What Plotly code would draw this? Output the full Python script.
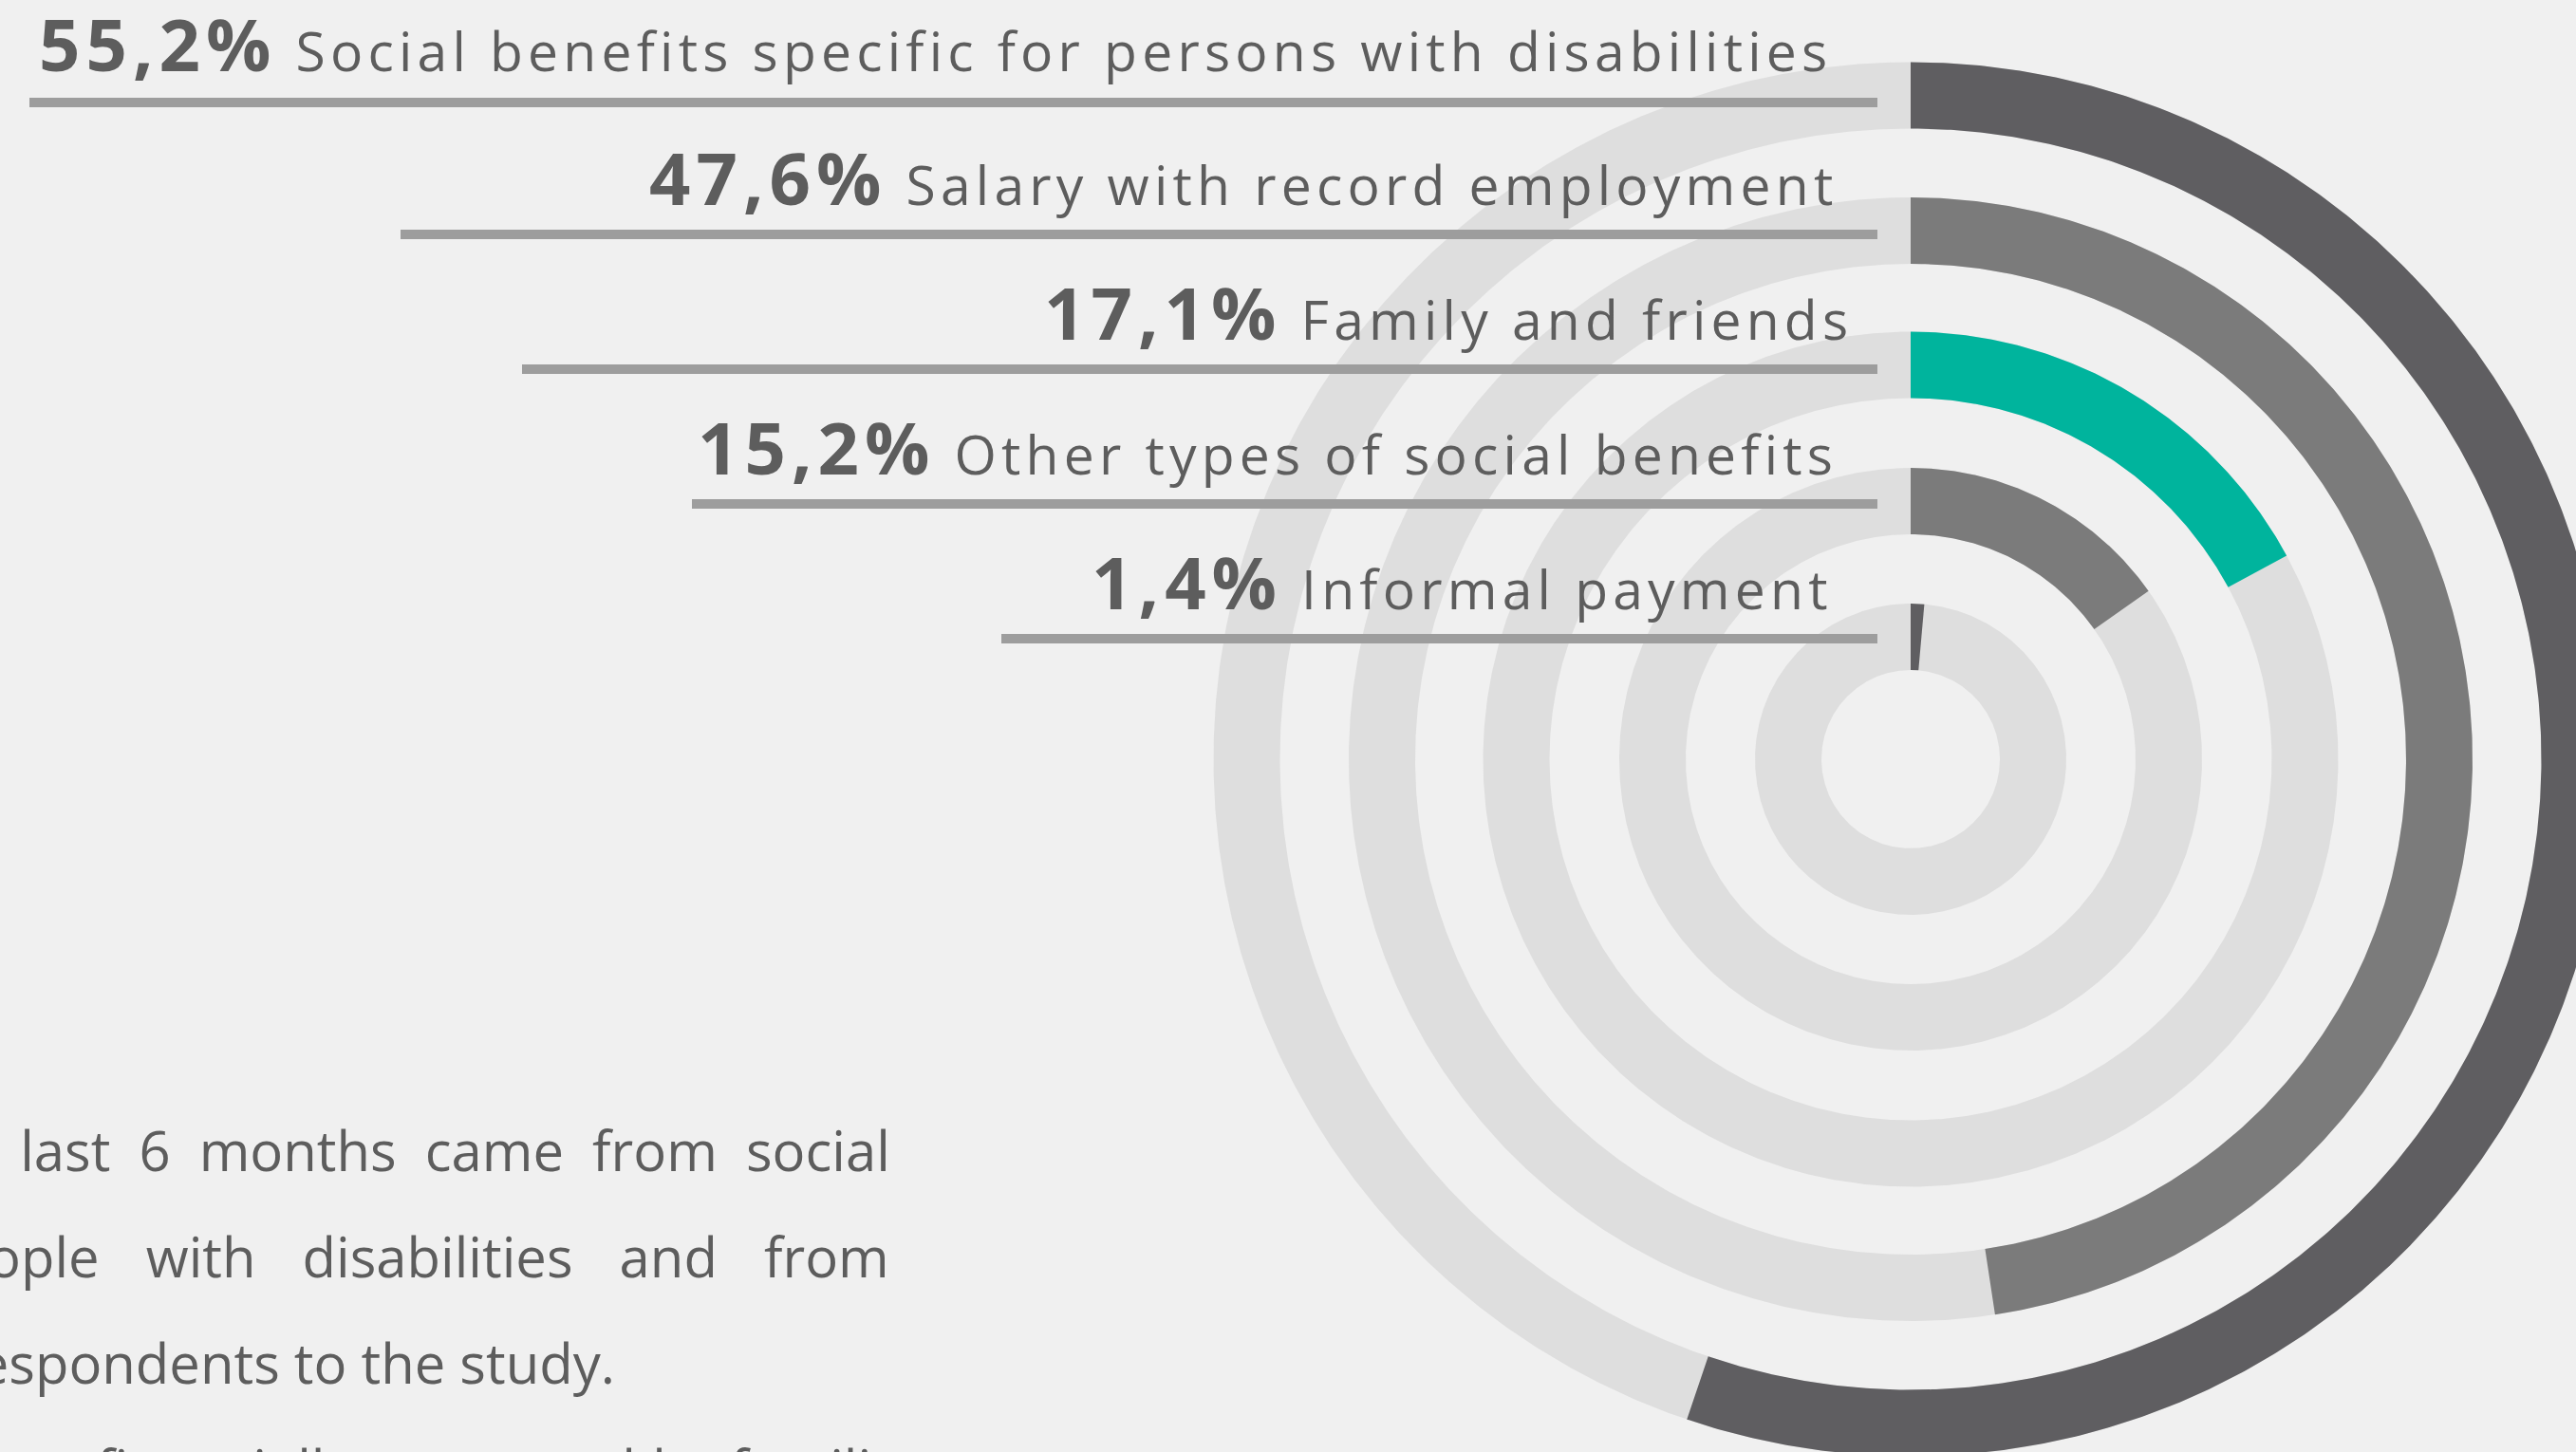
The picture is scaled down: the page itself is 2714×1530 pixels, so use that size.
import numpy as np
import plotly.graph_objects as go

# ---------------- data ----------------
categories = [
    "Social benefits specific for persons with disabilities",
    "Salary with record employment",
    "Family and friends",
    "Other types of social benefits",
    "Informal payment",
]
shares = [55.2, 47.6, 17.1, 15.2, 1.4]
share_labels = ["55,2%", "47,6%", "17,1%", "15,2%", "1,4%"]

paragraph_lines = [
    "in the last 6 months came from social",
    "people with disabilities and from",
    "respondents to the study.",
    "financially supported by famili-",
]

# ---------------- layout & style ----------------
W, H = 2714, 1530
BG = "#f0f0f0"
TRACK = "#dedede"
TEXT = "#5d5d5d"
RULE = "#9d9d9d"
ring_colors = ["#5f5e61", "#7b7b7b", "#00b49d", "#7b7b7b", "#5f5e61"]

CX, CY = 2013, 800                        # ring centre (px)
ring_mid = [699.5, 557, 415.5, 272, 129]  # mid radius of each ring
RING_W = 70

rule_y = [108, 247, 389, 531, 673]
rule_x0 = [31, 422, 550, 729, 1055]
RULE_X1 = 1978
RULE_T = 10

label_right = [1932, 1938, 1954, 1938, 1933]
label_base = [76, 217, 359, 501, 643]

para_base = [1235, 1347, 1459, 1571]


def arc(r_in, r_out, a0, a1):
    """Polygon of an annulus sector, angles in degrees clockwise from 12 o'clock."""
    n = max(int(abs(a1 - a0) * 3), 12)
    t = np.radians(np.linspace(a0, a1, n))
    xo, yo = CX + r_out * np.sin(t), CY - r_out * np.cos(t)
    ti = t[::-1]
    xi, yi = CX + r_in * np.sin(ti), CY - r_in * np.cos(ti)
    return np.r_[xo, xi, xo[:1]], np.r_[yo, yi, yo[:1]]


fig = go.Figure()

for i, (cat, val) in enumerate(zip(categories, shares)):
    r_in, r_out = ring_mid[i] - RING_W / 2, ring_mid[i] + RING_W / 2
    # full background track
    x, y = arc(r_in, r_out, 0, 360)
    fig.add_trace(go.Scatter(x=x, y=y, mode="lines", fill="toself",
                             fillcolor=TRACK, line=dict(width=0),
                             hoverinfo="skip", showlegend=False))
    # value arc
    x, y = arc(r_in, r_out, 0, val / 100 * 360)
    fig.add_trace(go.Scatter(x=x, y=y, mode="lines", fill="toself",
                             fillcolor=ring_colors[i], line=dict(width=0),
                             name=cat, hoverinfo="name", showlegend=False))

shapes = []
annotations = []
for i, (cat, lab) in enumerate(zip(categories, share_labels)):
    shapes.append(dict(type="rect", xref="x", yref="y",
                       x0=rule_x0[i], x1=RULE_X1,
                       y0=rule_y[i] - RULE_T / 2, y1=rule_y[i] + RULE_T / 2,
                       fillcolor=RULE, line=dict(width=0), layer="above"))
    txt = (f'<span style="font-size:76px;font-weight:bold;letter-spacing:6px">{lab}</span>'
           f'<span style="letter-spacing:5.2px"> {cat}</span>')
    annotations.append(dict(text=txt, xref="paper", yref="paper",
                            x=label_right[i] / W, y=1 - (label_base[i] + 23) / H,
                            xanchor="right", yanchor="bottom", showarrow=False,
                            font=dict(family="Open Sans", size=57, color=TEXT)))

# paragraph fragment in the lower left
para_specs = [
    dict(anchor="right", x=940, ws=15),
    dict(anchor="right", x=939, ws=34),
    dict(anchor="left", x=-49, ws=0),
    dict(anchor="right", x=939, ws=2),
]
for line, base, spec in zip(paragraph_lines, para_base, para_specs):
    annotations.append(dict(
        text=f'<span style="word-spacing:{spec["ws"]}px">{line}</span>',
        xref="paper", yref="paper", x=spec["x"] / W, y=1 - (base + 18) / H,
        xanchor=spec["anchor"], yanchor="bottom", showarrow=False,
        font=dict(family="Open Sans", size=58, color=TEXT)))

fig.update_layout(
    width=W, height=H,
    margin=dict(l=0, r=0, t=0, b=0),
    paper_bgcolor=BG, plot_bgcolor=BG,
    xaxis=dict(range=[0, W], visible=False, fixedrange=True),
    yaxis=dict(range=[H, 0], visible=False, fixedrange=True),
    shapes=shapes, annotations=annotations,
)

fig.write_html("out.html", config={"displayModeBar": False})
